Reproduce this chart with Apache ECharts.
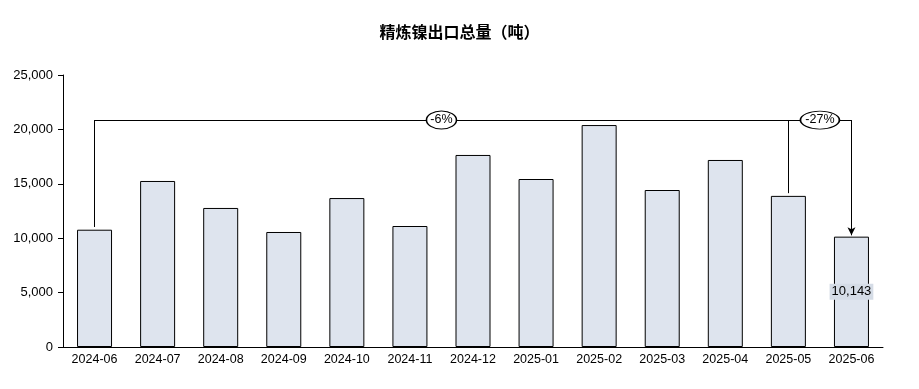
<!DOCTYPE html>
<html>
<head>
<meta charset="utf-8">
<script src="https://cdn.jsdelivr.net/npm/echarts@6/dist/echarts.min.js"></script>
<style>html,body{margin:0;padding:0;background:#fff}#c{width:919px;height:389px}</style>
</head>
<body>
<div id="c"></div>
<script>
var categories = ['2024-06','2024-07','2024-08','2024-09','2024-10','2024-11','2024-12','2025-01','2025-02','2025-03','2025-04','2025-05','2025-06'];
var values = [10780, 15260, 12780, 10570, 13690, 11120, 17650, 15440, 20400, 14430, 17190, 13890, 10143];
var yTicks = [0, 5000, 10000, 15000, 20000, 25000];
var bracketLevel = 20860;
var changeLabels = [
  { text: '-6%', from: 0, to: 12 },
  { text: '-27%', from: 11, to: 12 }
];

var chart = echarts.init(document.getElementById('c'), null, { renderer: 'canvas' });
var font = 'Liberation Sans, Arial, sans-serif';
var lastIdx = values.length - 1;

var lineStyle = { color: '#000', width: 1, type: 'solid' };
var markData = [
  [{ coord: [0, values[0] + 250], symbol: 'none' }, { coord: [0, bracketLevel], symbol: 'none' }],
  [{ coord: [0, bracketLevel], symbol: 'none' }, { coord: [12, bracketLevel], symbol: 'none' }],
  [{ coord: [12, bracketLevel], symbol: 'none' }, { coord: [12, values[12] + 120], symbol: 'arrow', symbolSize: [6, 8] }],
  [{ coord: [11, values[11] + 250], symbol: 'none' }, { coord: [11, bracketLevel], symbol: 'none' }]
];

var ellipseData = [
  { value: [5.5, bracketLevel], label: changeLabels[0].text, size: [30, 18] },
  { value: [(changeLabels[1].from + changeLabels[1].to) / 2, bracketLevel], label: changeLabels[1].text, size: [39, 18] }
];

chart.setOption({
  animation: false,
  title: {
    text: '精炼镍出口总量（吨）',
    left: 'center',
    top: 19,
    textStyle: { fontFamily: 'Noto Sans CJK SC', fontSize: 16, fontWeight: 'bold', color: '#000' }
  },
  grid: { left: 63, right: 36, top: 75, bottom: 42, containLabel: false },
  xAxis: [{
    type: 'category',
    data: categories,
    axisLine: { onZero: false, lineStyle: { color: '#000', width: 1 } },
    axisTick: { show: false },
    axisLabel: { color: '#000', fontFamily: font, fontSize: 12.5, margin: 6, interval: 0 }
  }, {
    type: 'value',
    min: -0.5, max: 12.5,
    show: false
  }],
  yAxis: {
    type: 'value',
    min: 0, max: 25000, interval: 5000,
    splitLine: { show: false },
    axisLine: { show: true, onZero: false, lineStyle: { color: '#000', width: 1 } },
    axisTick: { show: true, length: 5, lineStyle: { color: '#000' } },
    axisLabel: {
      color: '#000', fontFamily: font, fontSize: 13, margin: 10,
      formatter: function (v) { return v.toLocaleString('en-US'); }
    }
  },
  series: [{
    type: 'bar',
    data: values.map(function (v, i) {
      var d = { value: v };
      if (i === lastIdx) {
        d.label = {
          show: true, position: 'inside',
          formatter: function (p) { return p.value.toLocaleString('en-US'); },
          color: '#000', fontFamily: font, fontSize: 13,
          backgroundColor: '#D5DCE6', padding: [2, 2, 1, 2]
        };
      }
      return d;
    }),
    barWidth: 35,
    itemStyle: { color: '#DEE4EE', borderColor: '#000', borderWidth: 1 },
    markLine: {
      silent: true,
      symbol: 'none',
      label: { show: false },
      lineStyle: lineStyle,
      data: markData
    },
    z: 2
  }, {
    type: 'scatter',
    xAxisIndex: 1,
    symbol: 'circle',
    data: ellipseData.map(function (e) {
      return {
        value: e.value,
        symbolSize: e.size,
        label: { show: true, formatter: e.label }
      };
    }),
    itemStyle: { color: '#fff', borderColor: '#000', borderWidth: 1.2, opacity: 1 },
    label: { position: 'inside', color: '#000', fontFamily: font, fontSize: 12.5 },
    z: 5
  }]
});
</script>
</body>
</html>
